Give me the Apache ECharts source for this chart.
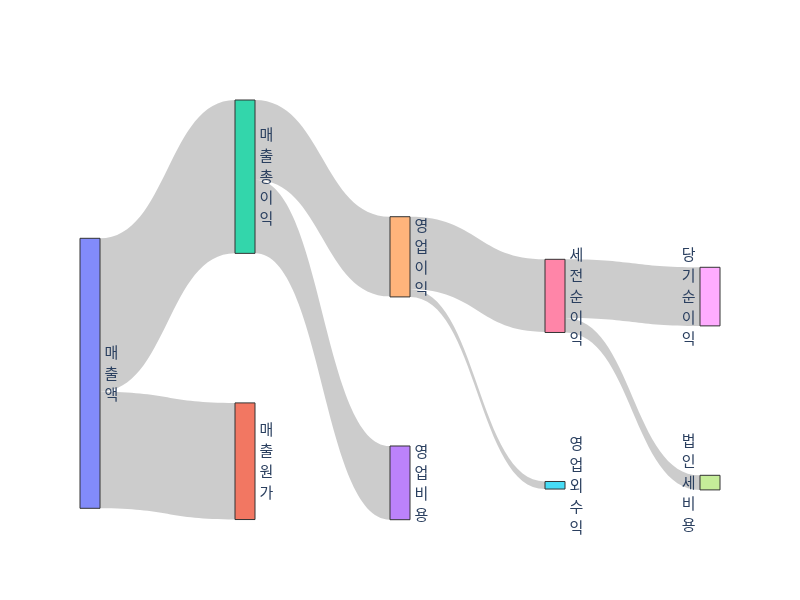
<!DOCTYPE html>
<html><head><meta charset="utf-8">
<script src="https://cdn.jsdelivr.net/npm/echarts@6/dist/echarts.min.js"></script>
<style>html,body{margin:0;padding:0;background:#fff}#c{width:800px;height:600px}</style>
</head><body><div id="c"></div>
<script>
// ---- data ----
const nodeNames = ['매출액', '매출총이익', '매출원가', '영업이익', '영업비용', '세전순이익', '영업외수익', '당기순이익', '법인세비용'];
const linkSources = ['매출액', '매출액', '매출총이익', '매출총이익', '영업이익', '영업이익', '세전순이익', '세전순이익'];
const linkTargets = ['매출총이익', '매출원가', '영업이익', '영업비용', '세전순이익', '영업외수익', '당기순이익', '법인세비용'];
const linkValues = [568, 432, 295, 273, 269, 28, 217, 54];

// ---- styling / layout (not data) ----
const nodeColors = ['#828bfb', '#33d6ab', '#f27762', '#ffb47b', '#bc82fb', '#ff85a8', '#47dcf5', '#ffacff', '#c5ed99'];
const nodeLocalY = [0.3293, 0, 0.7212, 0.2779, 0.8238, 0.3793, 0.9083, 0.3983, 0.8936];
const labelLeftNodes = ['당기순이익', '법인세비용'];

const chart = echarts.init(document.getElementById('c'), null, {renderer: 'canvas'});
const data = nodeNames.map((n, i) => ({
  name: n,
  localY: nodeLocalY[i],
  itemStyle: {color: nodeColors[i]},
  label: {position: labelLeftNodes.includes(n) ? 'left' : 'right'}
}));
const links = linkSources.map((s, i) => ({source: s, target: linkTargets[i], value: linkValues[i]}));

chart.setOption({
  backgroundColor: '#fff',
  animation: false,
  series: [{
    type: 'sankey',
    left: 80, top: 100, right: 80, bottom: 80,
    nodeWidth: 20,
    nodeGap: 150,
    nodeAlign: 'left',
    layoutIterations: 0,
    draggable: false,
    emphasis: {disabled: true},
    itemStyle: {borderColor: '#333', borderWidth: 1},
    lineStyle: {color: '#000', opacity: 0.2, curveness: 0.5},
    label: {
      show: true,
      distance: 4,
      color: '#2a3f5f',
      fontSize: 15,
      lineHeight: 21,
      fontFamily: '"Noto Sans CJK KR", "Open Sans", sans-serif',
      formatter: p => p.name.split('').join('\n')
    },
    data: data,
    links: links
  }]
});
</script>
</body></html>
